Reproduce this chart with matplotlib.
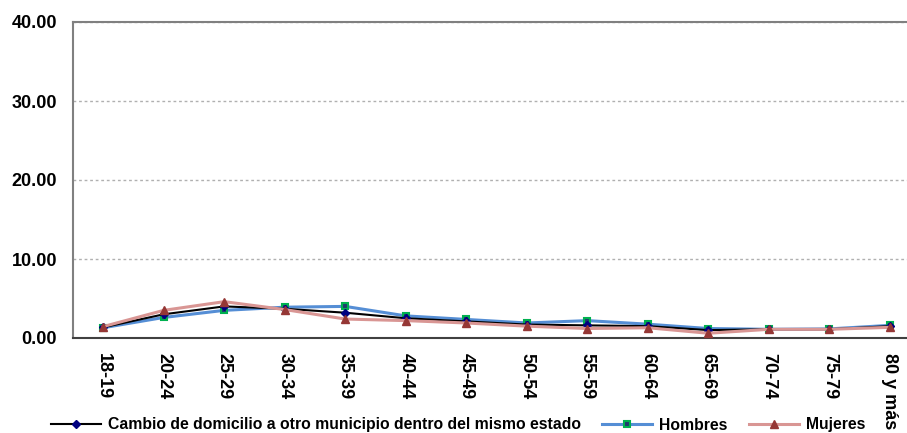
import matplotlib
matplotlib.use('Agg')
import matplotlib.pyplot as plt

plt.rcParams['font.family'] = ['Liberation Sans', 'DejaVu Sans']
plt.rcParams['font.weight'] = 'bold'

# grupos de edad
grupos = ['18-19', '20-24', '25-29', '30-34', '35-39', '40-44', '45-49',
          '50-54', '55-59', '60-64', '65-69', '70-74', '75-79', '80 y más']

# porcentajes
total = [1.35, 3.0, 4.0, 3.7, 3.2, 2.5, 2.1, 1.7, 1.6, 1.5, 1.0, 1.1, 1.1, 1.5]
hombres = [1.3, 2.6, 3.5, 3.9, 4.0, 2.8, 2.35, 1.9, 2.2, 1.75, 1.2, 1.1, 1.15, 1.6]
mujeres = [1.45, 3.5, 4.6, 3.6, 2.4, 2.2, 1.9, 1.5, 1.2, 1.3, 0.6, 1.1, 1.1, 1.35]

yticks = [0, 10, 20, 30, 40]

fig = plt.figure(figsize=(9.07, 4.33), dpi=100)
ax = fig.add_axes([73 / 907, 95 / 433, 847 / 907, 316 / 433])

x = list(range(len(grupos)))
ax.plot(x, total, color='black', lw=1.5, marker='D', ms=4,
        mfc='#000080', mec='#000080',
        label='Cambio de domicilio a otro municipio dentro del mismo estado', zorder=4)
ax.plot(x, hombres, color='#558ed5', lw=2.2, marker='s', ms=5,
        mfc='#1f3a6e', mec='#00b050', mew=1.5, label='Hombres', zorder=3)
ax.plot(x, mujeres, color='#d99694', lw=2.2, marker='^', ms=6,
        mfc='#953735', mec='#953735', label='Mujeres', zorder=5)

ax.set_xlim(-0.5, len(grupos) - 0.5)
ax.set_ylim(0, 40)
ax.set_yticks(yticks)
ax.set_yticklabels([f'{v:.2f}' for v in yticks], fontsize=13, fontweight='bold')
ax.set_xticks(x)
ax.set_xticklabels(grupos, rotation=-90, fontsize=13, fontweight='bold')
ax.tick_params(axis='y', length=0, pad=11.5)
ax.tick_params(axis='x', length=0, pad=11)

ax.yaxis.grid(True, linestyle=(0, (2, 2)), color='#b0b0b0', lw=1)
ax.set_axisbelow(True)

for s in ['left', 'top']:
    ax.spines[s].set_color('#808080')
    ax.spines[s].set_linewidth(1.5)
ax.spines['bottom'].set_color('#404040')
ax.spines['bottom'].set_linewidth(1.5)
ax.spines['right'].set_visible(False)

fig.legend(loc='center', bbox_to_anchor=(458 / 907, 1 - 425 / 433), ncol=3,
           frameon=False, handlelength=3.2, columnspacing=1.35,
           handletextpad=0.45, prop={'weight': 'bold', 'size': 11.3})

fig.savefig('out.png', dpi=100)
